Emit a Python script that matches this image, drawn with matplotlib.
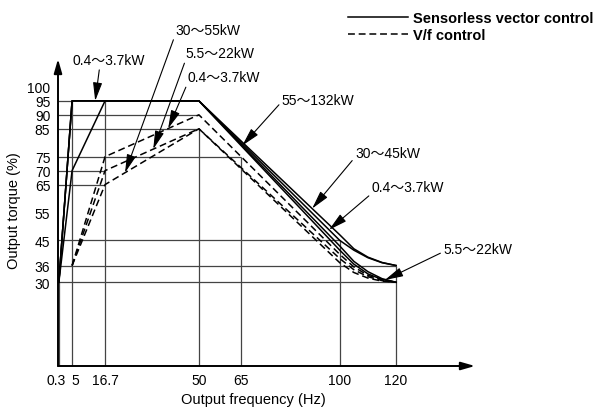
"""
Output torque vs output frequency for sensorless vector control and V/f control
"""
import numpy as np
import matplotlib
matplotlib.use("Agg")
import matplotlib.pyplot as plt
import matplotlib.transforms as mtransforms

plt.rcParams['font.family'] = ['Liberation Sans', 'Noto Sans CJK JP']

# sensorless vector control (solid lines)
vec_04_f = [0.3, 5, 16.7, 50, 100, 105, 110, 115, 120]
vec_04_t = [30, 70, 95, 95, 45, 41.5, 38.8, 37, 36]
vec_30_f = [0.3, 5, 50, 100, 105, 110, 115, 120]
vec_30_t = [30, 95, 95, 47, 42, 39, 37.1, 36]
vec_55_f = [0.3, 5, 50, 100, 105, 110, 115, 120]
vec_55_t = [30, 95, 95, 43, 37.5, 33.8, 31.3, 30]
vec_5_f = [0.3, 5, 50, 100, 105, 110, 115, 120]
vec_5_t = [30, 95, 95, 41.5, 36.5, 33, 31, 30]

# V/f control (dashed lines)
vf_f = [5, 16.7, 50, 100, 105, 110, 115, 120]
vf_04_t = [36, 75, 90, 40, 35.5, 32.5, 30.8, 30]
vf_5_t = [36, 70, 85, 38.5, 34.5, 32, 30.6, 30]
vf_30_t = [36, 65, 85, 37, 33.5, 31.5, 30.4, 30]

x_ticks = [0.3, 5, 16.7, 50, 65, 100, 120]
y_ticks = [30, 36, 45, 55, 65, 70, 75, 85, 90, 95, 100]

# reference lines: (torque level, frequency where it stops)
h_guides = [(95, 5), (90, 50), (85, 50), (75, 65), (70, 16.7), (65, 16.7),
            (45, 100), (36, 120), (30, 120)]
# (frequency, torque where it stops)
v_guides = [(0.3, 30), (5, 95), (16.7, 95), (50, 85), (65, 75),
            (100, 45), (120, 36)]

fig = plt.figure(figsize=(5.98, 4.10), dpi=100)
ax = fig.add_axes([58 / 598, 43 / 410, 417 / 598, 307 / 410])
ax.set_xlim(0, 148)
ax.set_ylim(0, 110)

grid_kw = dict(color='#444444', lw=0.9, zorder=1)
for level, end in h_guides:
    ax.hlines(level, 0, end, **grid_kw)
for freq, end in v_guides:
    ax.vlines(freq, 0, end, **grid_kw)

solid_kw = dict(color='black', lw=1.1, zorder=3)
dash_kw = dict(color='black', lw=1.1, ls=(0, (4.5, 2.5)), zorder=3)
vec_line, = ax.plot(vec_04_f, vec_04_t, **solid_kw)
ax.plot(vec_30_f, vec_30_t, **solid_kw)
ax.plot(vec_55_f, vec_55_t, **solid_kw)
ax.plot(vec_5_f, vec_5_t, **solid_kw)
vf_line, = ax.plot(vf_f, vf_04_t, **dash_kw)
ax.plot(vf_f, vf_5_t, **dash_kw)
ax.plot(vf_f, vf_30_t, **dash_kw)

# axes with arrow heads
for spine in ax.spines.values():
    spine.set_visible(False)
axis_arrow = dict(arrowstyle='-|>,head_length=0.7,head_width=0.2', lw=1.4,
                  color='black', mutation_scale=12, shrinkA=0, shrinkB=0)
ax.annotate('', xy=(1, 0), xytext=(0, 0), xycoords='axes fraction',
            arrowprops=axis_arrow, zorder=4)
ax.annotate('', xy=(0, 1), xytext=(0, 0), xycoords='axes fraction',
            arrowprops=axis_arrow, zorder=4)

ax.set_xticks(x_ticks)
ax.set_xticklabels([f"{v:g}" for v in x_ticks])
ax.set_yticks(y_ticks)
ax.set_yticklabels([f"{v:g}" for v in y_ticks])
ax.tick_params(axis='both', length=0, labelsize=10)
ax.tick_params(axis='x', pad=5)
ax.tick_params(axis='y', pad=5.5)

# the first two frequency labels sit very close, nudge them apart
labels = ax.get_xticklabels()
for lab, dx in ((labels[0], -3), (labels[1], 3)):
    lab.set_transform(lab.get_transform() +
                      mtransforms.ScaledTranslation(dx / 100, 0, fig.dpi_scale_trans))

ax.set_xlabel('Output frequency (Hz)', fontsize=10.5)
ax.set_ylabel('Output torque (%)', fontsize=10.5)
ax.xaxis.set_label_coords(0.468, -0.085)
ax.yaxis.set_label_coords(-0.088, 0.51)

# callouts: text, series (f, t), frequency pointed at, text position, arrow start
callouts = [
    ('0.4～3.7kW', (vec_30_f, vec_30_t), 13.2, (5.0, 109.6), (0.38, 0.0)),
    ('30～55kW', (vf_f, vf_30_t), 23.8, (41.5, 120.4), (0.0, 0.1)),
    ('5.5～22kW', (vf_f, vf_5_t), 33.8, (45.1, 112.0), (0.02, 0.2)),
    ('0.4～3.7kW', (vf_f, vf_04_t), 39.1, (45.8, 103.4), (0.0, 0.0)),
    ('55～132kW', (vec_55_f, vec_55_t), 65.4, (79.4, 95.2), (0.0, 0.4)),
    ('30～45kW', (vec_30_f, vec_30_t), 90.2, (105.4, 76.3), (0.0, 0.2)),
    ('0.4～3.7kW', (vec_04_f, vec_04_t), 96.2, (111.3, 64.3), (0.0, 0.0)),
    ('5.5～22kW', (vec_5_f, vec_5_t), 116.0, (136.7, 41.9), (0.0, 0.3)),
]
for text, (sf, st), freq, pos, rel in callouts:
    target = (freq, np.interp(freq, sf, st))
    ax.annotate(text, xy=target, xytext=pos, ha='left', va='center',
                fontsize=10, annotation_clip=False, zorder=5,
                arrowprops=dict(arrowstyle='-|>,head_length=0.8,head_width=0.2',
                                lw=0.8, color='black', mutation_scale=14,
                                shrinkA=0, shrinkB=0, relpos=rel))

ax.legend([vec_line, vf_line], ['Sensorless vector control', 'V/f control'],
          loc='upper left', bbox_to_anchor=(348 / 598, 1 - 12 / 410),
          bbox_transform=fig.transFigure, frameon=False,
          prop=dict(weight='bold', size=10.5), handlelength=4.1,
          handletextpad=0.34, borderpad=0, borderaxespad=0, labelspacing=0.2)

fig.savefig('out.png', dpi=100)
